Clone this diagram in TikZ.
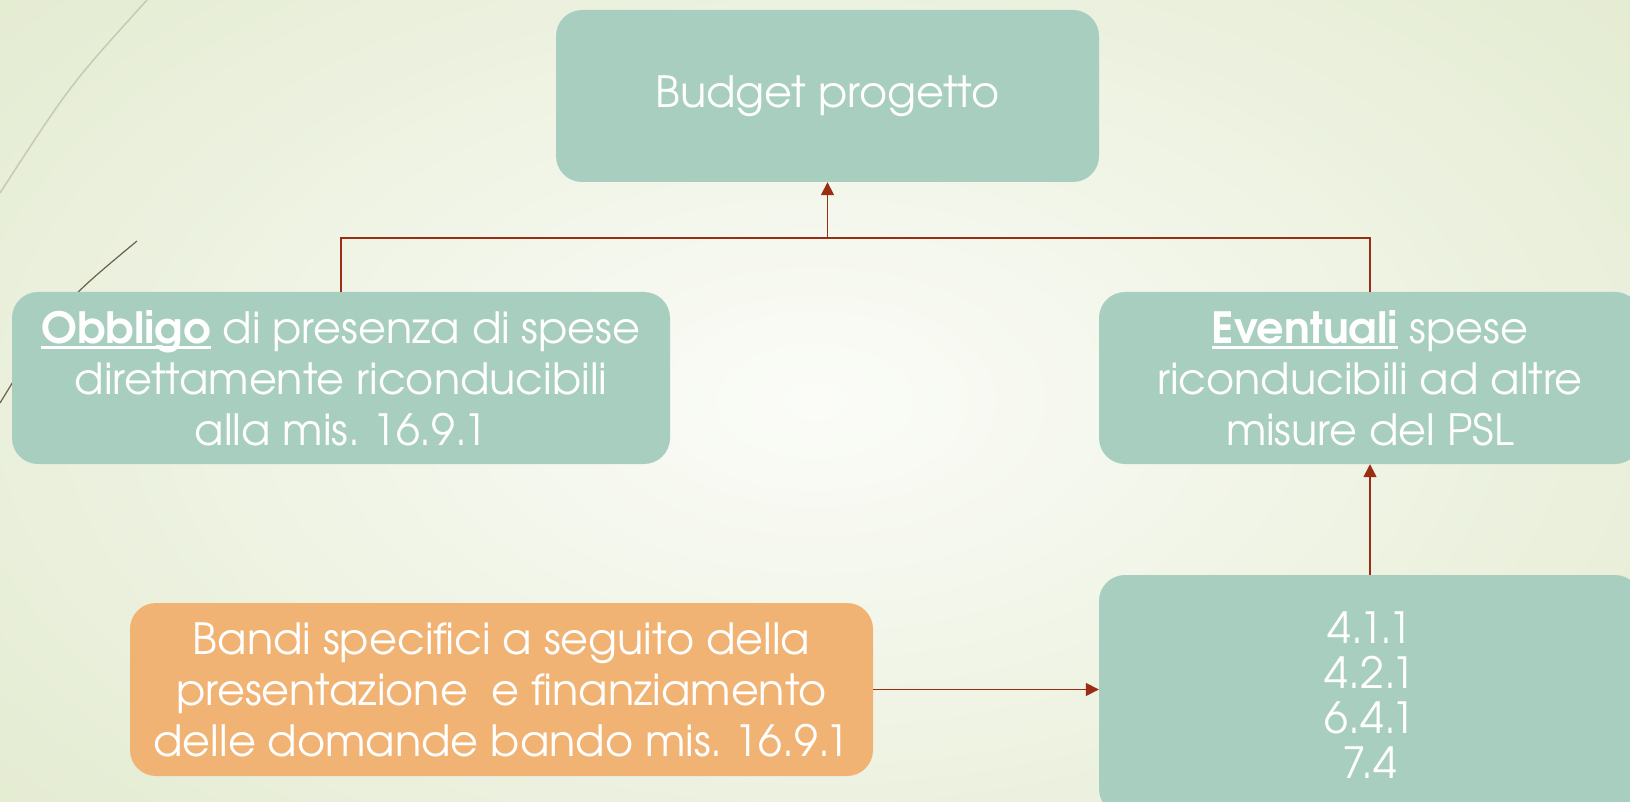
\documentclass[tikz,border=0pt]{standalone}
\usepackage{fontspec}
\setmainfont{TeX Gyre Adventor}
\usetikzlibrary{arrows.meta}
\definecolor{boxgreen}{HTML}{A8CEBF}
\definecolor{boxorange}{HTML}{F0B373}
\definecolor{connred}{HTML}{9B2D15}
\definecolor{bgouter}{HTML}{E3EBD0}
\definecolor{bginner}{HTML}{FBFCF8}
\definecolor{curvelight}{HTML}{C5CAB3}
\definecolor{curvedark}{HTML}{6E6048}
\newcommand\myul[1]{\leavevmode\setbox0\hbox{#1}\rlap{\rule[-6pt]{\wd0}{3pt}}\box0\relax}
\frenchspacing
\begin{document}
\begin{tikzpicture}[x=1pt,y=-1pt,
  box/.style={rectangle, rounded corners=26pt, fill=boxgreen, inner sep=0pt, align=center,
    text=white, font=\fontsize{43}{51}\selectfont},
  conn/.style={draw=connred, line width=1.6pt},
  arr/.style={conn, -{Triangle[length=13pt,width=13pt]}}]
\useasboundingbox (0,0) rectangle (1630,802);
\clip (0,0) rectangle (1630,802);
\shade[inner color=bginner, outer color=bgouter] (-300,-250) rectangle (1930,1052);
\draw[curvelight, line width=1.5pt] (147,0) .. controls (70,85) .. (0,193);
\draw[curvedark, line width=1.2pt] (137,241) .. controls (60,305) .. (0,403);
\node[box, minimum width=543pt, minimum height=172pt] (budget) at (827.5,96) {Budget progetto};
\node[box, minimum width=658pt, minimum height=172pt] (obbligo) at (341,378)
  {\myul{\textbf{Obbligo}} di presenza di spese\\direttamente riconducibili\\alla mis. 16.9.1};
\node[box, minimum width=542pt, minimum height=172pt] (eventuali) at (1370,378)
  {\myul{\textbf{Eventuali}} spese\\riconducibili ad altre\\misure del PSL};
\node[box, fill=boxorange, minimum width=743pt, minimum height=173pt] (bandi) at (501.5,689.5)
  {Bandi specifici a seguito della\\presentazione\ \ e finanziamento\\delle domande bando mis. 16.9.1};
\node[box, minimum width=542pt, minimum height=240pt, font=\fontsize{43}{45}\selectfont] (misure) at (1370,695)
  {4.1.1\\4.2.1\\6.4.1\\7.4};
\coordinate (junction) at (budget.south |- 0,238);
\draw[conn] (obbligo.north) -- (obbligo.north |- junction) -- (eventuali.north |- junction) -- (eventuali.north);
\draw[arr] (junction) -- (budget.south);
\draw[arr] (misure.north) -- (eventuali.south);
\draw[arr] (bandi.east) -- (bandi.east -| misure.west);
\end{tikzpicture}
\end{document}
